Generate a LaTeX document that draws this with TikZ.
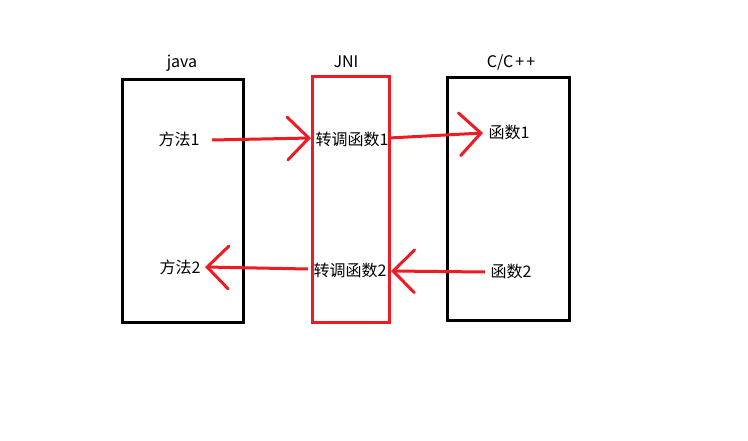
\documentclass[tikz,border=0pt]{standalone}
\usepackage{fontspec}
\setmainfont{Noto Sans CJK SC}
\usetikzlibrary{arrows.meta}
\definecolor{pred}{RGB}{237,28,36}
\tikzset{
  blackbox/.style={draw=black, line width=2.25pt, minimum height=181.5pt, inner sep=0pt},
  redbox/.style={draw=pred, line width=2.25pt, inner sep=0pt},
  lbl/.style={font=\fontsize{12pt}{14pt}\selectfont, inner sep=0pt, text=black},
  redarrow/.style={draw=pred, line width=2.25pt, -{Straight Barb[length=16pt,width=32pt,line cap=round]}}
}
\begin{document}
\begin{tikzpicture}[x=0.75pt,y=-0.75pt]
\useasboundingbox (0,0) rectangle (748,441);
% boxes
\node[blackbox, minimum width=90.75pt] (javabox) at (182.5,201) {};
\node[redbox, minimum width=57.75pt, minimum height=183.75pt] (jnibox) at (350.5,199.5) {};
\node[blackbox, minimum width=91.5pt] (cbox) at (508,199) {};
% titles
\node[lbl] (tjava) at (182,63) {java};
\node[lbl] (tjni) at (346,62) {JNI};
\node[lbl] (tc) at (511,63) {C/C\kern1.5pt+\kern1.5pt+};
% texts
\node[lbl] (m1) at (179,139) {方法1};
\node[lbl] (j1) at (352,139) {转调函数1};
\node[lbl] (f1) at (509,132) {函数1};
\node[lbl] (m2) at (180,267) {方法2};
\node[lbl] (j2) at (350,270) {转调函数2};
\node[lbl] (f2) at (511,271) {函数2};
% connector endpoints
\coordinate (a1s) at (212,140);
\coordinate (a1e) at (311,138);
\coordinate (a2s) at (389,138);
\coordinate (a2e) at (483,133);
\coordinate (a3s) at (308,269);
\coordinate (a3e) at (205,267);
\coordinate (a4s) at (485,272);
\coordinate (a4e) at (391,271);
\draw[redarrow] (a1s) -- (a1e);
\draw[redarrow] (a2s) -- (a2e);
\draw[redarrow] (a3s) -- (a3e);
\draw[redarrow] (a4s) -- (a4e);
\end{tikzpicture}
\end{document}
